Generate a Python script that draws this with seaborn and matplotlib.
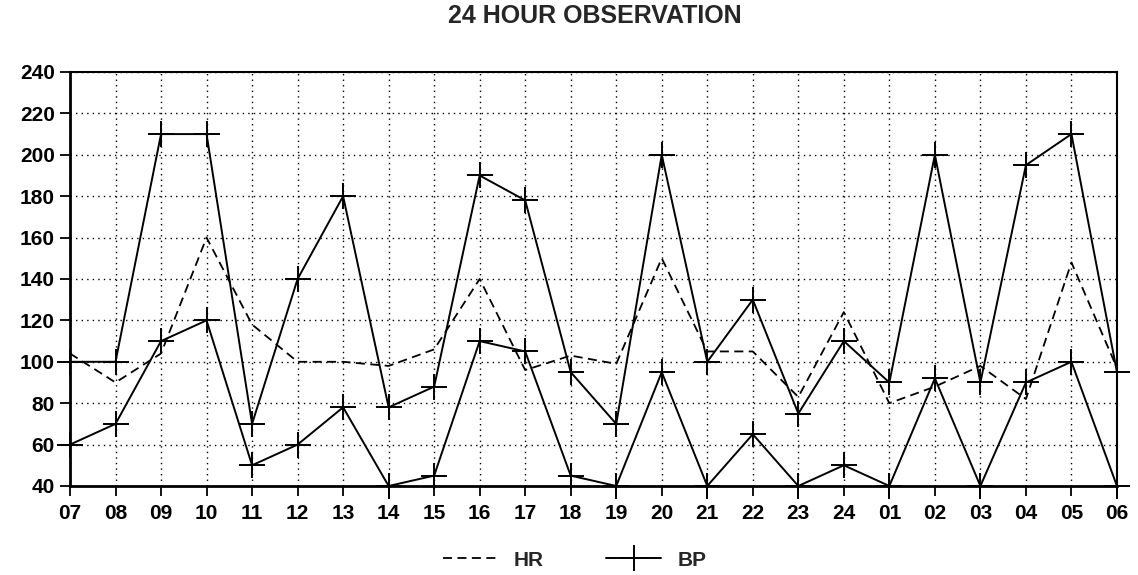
#!/usr/bin/env python3
import numpy as np
import pandas as pd
import matplotlib
matplotlib.use("Agg")
import matplotlib.pyplot as plt
import seaborn as sns

# ---------------- DATA ----------------
hours = ["07", "08", "09", "10", "11", "12", "13", "14", "15", "16", "17", "18",
         "19", "20", "21", "22", "23", "24", "01", "02", "03", "04", "05", "06"]
hr = [104, 90, 104, 160, 118, 100, 100, 98, 106, 140, 96, 103,
      99, 150, 105, 105, 83, 124, 80, 88, 98, 82, 148, 97]
bp_sys = [100, 100, 210, 210, 70, 140, 180, 78, 88, 190, 178, 95,
          70, 200, 100, 130, 75, 110, 90, 200, 90, 195, 210, 95]
bp_dia = [60, 70, 110, 120, 50, 60, 78, 40, 45, 110, 105, 45,
          40, 95, 40, 65, 40, 50, 40, 92, 40, 90, 100, 40]
y_ticks = list(range(40, 241, 20))

df = pd.DataFrame({"pos": np.arange(len(hours)), "hour": hours,
                   "HR": hr, "BP_sys": bp_sys, "BP_dia": bp_dia})

# ---------------- STYLE ----------------
sns.set_theme(style="white")
plt.rcParams["font.family"] = ["Liberation Sans", "DejaVu Sans"]

fig = plt.figure(figsize=(11.38, 5.75), dpi=100)
ax = fig.add_axes([0.0615, 0.1548, 0.920, 0.720])

# HR dashed
sns.lineplot(data=df, x="pos", y="HR", ax=ax, color="black", linewidth=1.3,
             dashes=False, label="HR")
ax.lines[-1].set_dashes((5, 3))

# BP systolic / diastolic with + markers
common = dict(color="black", linewidth=1.4, marker="+", markersize=19,
              markeredgewidth=1.4, markeredgecolor="black")
sns.lineplot(data=df, x="pos", y="BP_sys", ax=ax, label="BP", **common)
sns.lineplot(data=df, x="pos", y="BP_dia", ax=ax, label="_nolegend_", **common)
for ln in ax.lines[1:]:
    ln.set_clip_on(False)

# ---------------- AXES ----------------
ax.set_xlim(0, len(hours) - 1)
ax.set_ylim(40, 240)
ax.set_xticks(df["pos"])
ax.set_xticklabels(hours, fontweight="bold")
ax.set_yticks(y_ticks)
ax.set_yticklabels([str(v) for v in y_ticks], fontweight="bold")
ax.set_xlabel("")
ax.set_ylabel("")
ax.tick_params(axis="both", which="major", labelsize=15, length=7, width=1.3,
               color="black", labelcolor="black", direction="out",
               bottom=True, left=True)
ax.tick_params(axis="x", pad=6)
ax.tick_params(axis="y", pad=4)

ax.grid(True, color="black", linestyle=(0, (1, 3)), linewidth=1.0)
for side, sp in ax.spines.items():
    sp.set_color("black")
    sp.set_linewidth(2.0 if side in ("left", "bottom") else 1.5)

fig.text(0.523, 0.972, "24 HOUR OBSERVATION", ha="center", va="center",
         fontsize=18, fontweight="bold")

# ---------------- LEGEND ----------------
ax.get_legend().remove()
handles, labels = ax.get_legend_handles_labels()
fig.legend(handles, labels, loc="center", bbox_to_anchor=(0.505, 0.026),
           ncol=2, frameon=False, handlelength=2.6,
           columnspacing=3.0, handletextpad=0.8,
           prop={"size": 15, "weight": "bold"})

fig.savefig("out.png", dpi=100)
